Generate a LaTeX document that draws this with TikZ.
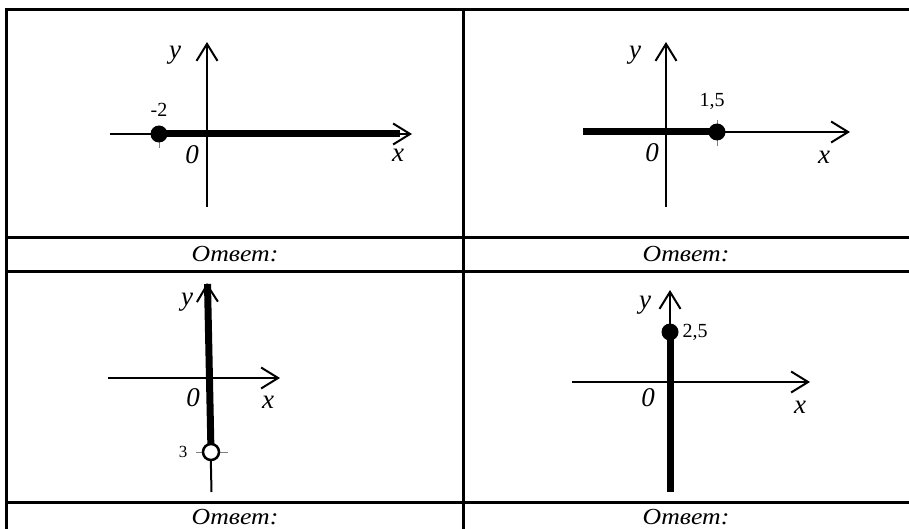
\documentclass[tikz,border=0pt]{standalone}
\usepackage{fontspec}
\usepackage{graphicx}
\setmainfont{Liberation Serif}
\usetikzlibrary{arrows.meta}
\newcommand{\anstext}{\scalebox{1.12}[1]{Ответ:}}
\begin{document}
\begin{tikzpicture}[x=1pt,y=-1pt,
  rule/.style={line width=3pt},
  axis/.style={line width=2pt,-{Straight Barb[length=17pt,width=21pt]}},
  ray/.style={line width=7pt},
  dot/.style={circle,fill=black,inner sep=0pt,minimum size=17pt},
  hole/.style={circle,draw=black,fill=white,line width=2.5pt,inner sep=0pt,minimum size=16pt},
  tickmark/.style={gray,line width=1pt},
  lbl/.style={font=\itshape\fontsize{27}{27}\selectfont,inner sep=0pt},
  num/.style={font=\fontsize{20}{20}\selectfont,inner sep=0pt},
  ans/.style={font=\itshape\fontsize{23}{23}\selectfont,inner sep=0pt}]
\useasboundingbox (0,0) rectangle (909,529);
\fill[white] (0,0) rectangle (909,529);
% table rules
\draw[rule] (5,9.5) -- (909,9.5);
\draw[rule] (6.5,8) -- (6.5,529);
\draw[rule] (463,9.5) -- (463,529);
\draw[rule] (5,237) -- (909,237);
\draw[rule] (5,271) -- (909,271);
\draw[rule] (5,502) -- (909,502);
% answer cells
\node[ans] (ans1) at (235,254) {\anstext};
\node[ans] (ans2) at (686,254) {\anstext};
\node[ans] (ans3) at (235,517) {\anstext};
\node[ans] (ans4) at (686,517) {\anstext};

% ---------- panel 1 ----------
\coordinate (p1xs) at (110,134);
\coordinate (p1xe) at (412,134);
\coordinate (p1xr) at (400,134);
\coordinate (p1ys) at (207,207);
\coordinate (p1ye) at (207,42);
\coordinate (p1t1) at (159,126);
\coordinate (p1t2) at (159,148);
\draw[tickmark] (p1t1) -- (p1t2);
\draw[axis] (p1xs) -- (p1xe);
\draw[axis] (p1ys) -- (p1ye);
\node[dot] (p1d) at (159,134) {};
\draw[ray] (p1d.center) -- (p1xr);
\node[lbl] (p1y) at (175,55) {y};
\node[num] (p1n) at (159,110) {-2};
\node[lbl] (p1o) at (192,155) {0};
\node[lbl] (p1x) at (398,155) {x};

% ---------- panel 2 ----------
\coordinate (p2xs) at (583,132);
\coordinate (p2xe) at (850,132);
\coordinate (p2ys) at (666,207);
\coordinate (p2ye) at (666,42);
\coordinate (p2t1) at (717,120);
\coordinate (p2t2) at (717,146);
\draw[tickmark] (p2t1) -- (p2t2);
\draw[axis] (p2xs) -- (p2xe);
\draw[axis] (p2ys) -- (p2ye);
\node[dot] (p2d) at (717,132) {};
\draw[ray] (p2xs) -- (p2d.center);
\node[lbl] (p2y) at (635,55) {y};
\node[num] (p2n) at (712,101) {1,5};
\node[lbl] (p2o) at (652,153) {0};
\node[lbl] (p2x) at (824,157) {x};

% ---------- panel 3 ----------
\coordinate (p3xs) at (108,378);
\coordinate (p3xe) at (280,378);
\coordinate (p3ys) at (211.5,492);
\coordinate (p3ye) at (207,283);
\coordinate (p3t1) at (196,452);
\coordinate (p3t2) at (228,452);
\draw[axis] (p3xs) -- (p3xe);
\draw[ray] (211,452) -- (207.5,284);
\draw[axis] (p3ys) -- (p3ye);
\draw[tickmark] (p3t1) -- (p3t2);
\node[hole] (p3h) at (211,452) {};
\node[lbl] (p3y) at (187,302) {y};
\node[lbl] (p3o) at (193,398) {0};
\node[lbl] (p3x) at (268,402) {x};
\node[num,font=\fontsize{17}{17}\selectfont] (p3n) at (183,452) {3};

% ---------- panel 4 ----------
\coordinate (p4xs) at (572,382);
\coordinate (p4xe) at (810,382);
\coordinate (p4ys) at (670,492);
\coordinate (p4ye) at (670,290);
\draw[axis] (p4xs) -- (p4xe);
\draw[axis] (p4ys) -- (p4ye);
\node[dot] (p4d) at (670,332) {};
\draw[ray] (p4d.center) -- (p4ys);
\node[lbl] (p4y) at (645,305) {y};
\node[num] (p4n) at (695,332) {2,5};
\node[lbl] (p4o) at (648,398) {0};
\node[lbl] (p4x) at (800,407) {x};
\end{tikzpicture}
\end{document}
